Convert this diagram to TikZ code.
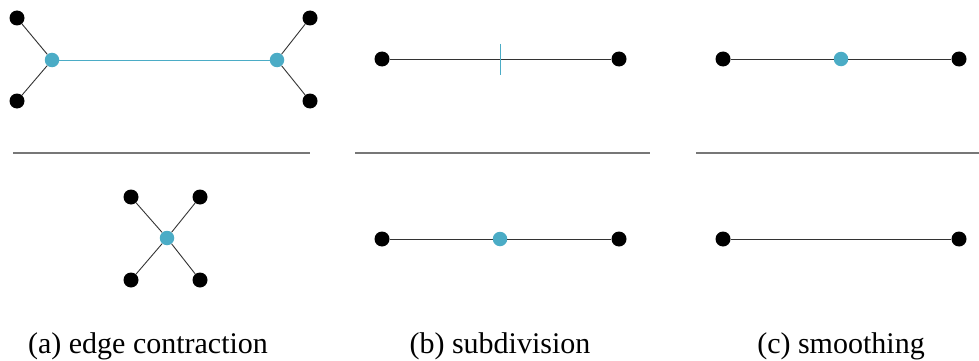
\documentclass[tikz,border=0pt]{standalone}
\usepackage{fontspec}
\setmainfont{Liberation Serif}
\newfontfamily\capfont{Liberation Serif}
\definecolor{hl}{HTML}{4BACC6}
\definecolor{edgegray}{HTML}{333333}
\definecolor{sepgray}{HTML}{777777}
\begin{document}
\begin{tikzpicture}[x=1pt,y=-1pt,
  bdot/.style={circle,fill=black,inner sep=0pt,minimum size=15pt},
  hdot/.style={circle,fill=hl,inner sep=0pt,minimum size=14.5pt},
  edge/.style={draw=edgegray,line width=0.9pt},
  hedge/.style={draw=hl,line width=0.9pt},
  sep/.style={draw=sepgray,line width=1.3pt},
  captext/.style={font=\capfont\fontsize{30}{32}\selectfont,anchor=base,inner sep=0pt}]
\useasboundingbox (0,0) rectangle (979,361);
% (a) top
\node[bdot] (a1) at (17,18) {};
\node[bdot] (a2) at (17,101) {};
\node[bdot] (a3) at (310,18) {};
\node[bdot] (a4) at (310,101) {};
\node[hdot] (au) at (52,60) {};
\node[hdot] (av) at (277,60) {};
\draw[edge] (a1) -- (au);
\draw[edge] (a2) -- (au);
\draw[edge] (a3) -- (av);
\draw[edge] (a4) -- (av);
\draw[hedge] (au) -- (av);
% (a) bottom
\node[hdot] (aw) at (167,238) {};
\node[bdot] (b1) at (131,197) {};
\node[bdot] (b2) at (200,197) {};
\node[bdot] (b3) at (131,280) {};
\node[bdot] (b4) at (200,280) {};
\draw[edge] (b1) -- (aw);
\draw[edge] (b2) -- (aw);
\draw[edge] (b3) -- (aw);
\draw[edge] (b4) -- (aw);
% (b) top
\node[bdot] (s1) at (382,59) {};
\node[bdot] (s2) at (619,59) {};
\draw[edge] (s1) -- (s2);
\coordinate (t1) at (500,44);
\coordinate (t2) at (500,75);
\draw[hedge] (t1) -- (t2);
% (b) bottom
\node[bdot] (s3) at (382,239) {};
\node[bdot] (s4) at (619,239) {};
\node[hdot] (sm) at (500,239) {};
\draw[edge] (s3) -- (sm);
\draw[edge] (sm) -- (s4);
% (c) top
\node[bdot] (c1) at (723,59) {};
\node[bdot] (c2) at (959,59) {};
\node[hdot] (cm) at (841,59) {};
\draw[edge] (c1) -- (cm);
\draw[edge] (cm) -- (c2);
% (c) bottom
\node[bdot] (c3) at (723,239) {};
\node[bdot] (c4) at (959,239) {};
\draw[edge] (c3) -- (c4);
% separators
\coordinate (la1) at (13,153); \coordinate (la2) at (310,153);
\coordinate (lb1) at (355,153); \coordinate (lb2) at (650,153);
\coordinate (lc1) at (696,153); \coordinate (lc2) at (979,153);
\draw[sep] (la1) -- (la2);
\draw[sep] (lb1) -- (lb2);
\draw[sep] (lc1) -- (lc2);
% captions
\node[captext] (capa) at (148,353) {(a) edge contraction};
\node[captext] (capb) at (500,353) {(b) subdivision};
\node[captext] (capc) at (841,353) {(c) smoothing};
\end{tikzpicture}
\end{document}
